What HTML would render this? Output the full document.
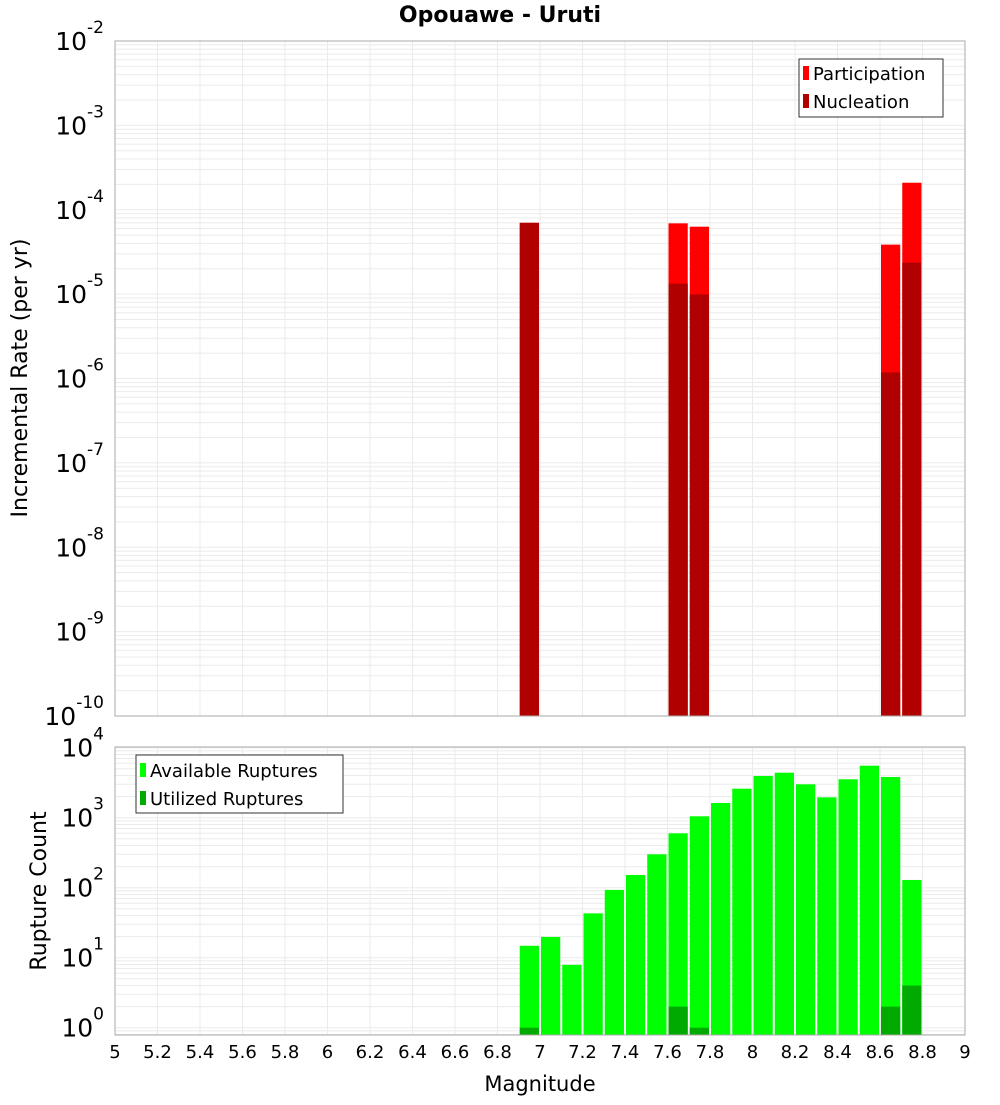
<!DOCTYPE html>
<html><head><meta charset="utf-8"><style>
body{margin:0;background:#fff;font-family:"Liberation Sans","DejaVu Sans",sans-serif}
svg text{font-family:"DejaVu Sans","Liberation Sans",sans-serif}
</style></head><body>
<svg id="chart" width="1000" height="1100" xmlns="http://www.w3.org/2000/svg">
<text x="500" y="22" text-anchor="middle" font-size="22" font-weight="bold">Opouawe - Uruti</text>
<g id="gtop"></g><g id="gbot"></g>
<text transform="translate(27,378) rotate(-90)" text-anchor="middle" font-size="22">Incremental Rate (per yr)</text>
<text transform="translate(46,891) rotate(-90)" text-anchor="middle" font-size="22">Rupture Count</text>
<text x="540" y="1091" text-anchor="middle" font-size="21">Magnitude</text>
<g>
<rect x="799" y="59" width="144" height="58" fill="#fff" stroke="#333"/>
<rect x="803" y="66" width="6" height="14" fill="#ff0000"/>
<text x="813" y="80" font-size="18">Participation</text>
<rect x="803" y="94" width="6" height="14" fill="#b00000"/>
<text x="813" y="108" font-size="18">Nucleation</text>
</g>
<g>
<rect x="136" y="755" width="207" height="58" fill="#fff" stroke="#333"/>
<rect x="140" y="763" width="6" height="14" fill="#00ff00"/>
<text x="150" y="777" font-size="18">Available Ruptures</text>
<rect x="140" y="791" width="6" height="14" fill="#00aa00"/>
<text x="150" y="805" font-size="18">Utilized Ruptures</text>
</g>
</svg>
<script>
const mags = [6.95,7.05,7.15,7.25,7.35,7.45,7.55,7.65,7.75,7.85,7.95,8.05,8.15,8.25,8.35,8.45,8.55,8.65,8.75];
const available = [14.8,19.8,7.9,43,93,152,300,598,1047,1622,2597,3943,4395,3000,1956,3540,5530,3813,129];
const utilized = [1,0,0,0,0,0,0,2,1,0,0,0,0,0,0,0,0,2,4];
const rateMags = [6.95,7.65,7.75,8.65,8.75];
const participation = [7.0e-5,6.9e-5,6.3e-5,3.86e-5,2.09e-4];
const nucleation = [7.0e-5,1.33e-5,9.9e-6,1.18e-6,2.36e-5];
const xTicks = [5,5.2,5.4,5.6,5.8,6,6.2,6.4,6.6,6.8,7,7.2,7.4,7.6,7.8,8,8.2,8.4,8.6,8.8,9];
const rateExps = [-2,-3,-4,-5,-6,-7,-8,-9,-10];
const countExps = [4,3,2,1,0];

const NS="http://www.w3.org/2000/svg";
const X0=115,X1=965;
const xs=m=>X0+(m-5)/4*(X1-X0);
const T0=41,T1=716,yTop=v=>T0+(-2-Math.log10(v))/8*(T1-T0);
const B0=747,B1=1035,PD=70,yBot=v=>1027.7-Math.log10(v)*PD;
function mk(p,tag,at,txt){const e=document.createElementNS(NS,tag);for(const k in at)e.setAttribute(k,at[k]);if(txt!==undefined)e.textContent=txt;p.appendChild(e);return e;}
const gTop=document.getElementById('gtop'),gBot=document.getElementById('gbot');
function grid(g,y0,y1,yf,lo,hi){
  mk(g,'rect',{x:X0,y:y0,width:X1-X0,height:y1-y0,fill:'#fff'});
  for(let e=lo;e<=hi;e++)for(let k=1;k<10;k++){const y=yf(k*Math.pow(10,e));if(y>y0&&y<y1){const l=mk(g,'line',{x1:X0,x2:X1,y1:y,y2:y,stroke:'#ebebeb','stroke-width':1});
    
    }}
  xTicks.forEach(t=>{const l=mk(g,'line',{x1:xs(t),x2:xs(t),y1:y0,y2:y1,stroke:'#ebebeb'});
    
    });
}
grid(gTop,T0,T1,yTop,-11,-2);
grid(gBot,B0,B1,yBot,-1,4);
const bw=xs(0.1)-xs(0)-2;
function bar(g,m,v,yf,yb,c,name){const y=yf(v);const r=mk(g,'rect',{x:xs(m)-bw/2,y:y,width:bw,height:yb-y,fill:c});
  
  }
rateMags.forEach((m,i)=>{bar(gTop,m,participation[i],yTop,T1,'#ff0000','participation-bar');bar(gTop,m,nucleation[i],yTop,T1,'#b00000','nucleation-bar');});
mags.forEach((m,i)=>{bar(gBot,m,available[i],yBot,B1,'#00ff00','available-bar');if(utilized[i]>0)bar(gBot,m,utilized[i],yBot,B1,'#00aa00','utilized-bar');});
mk(gTop,'rect',{x:X0,y:T0,width:X1-X0,height:T1-T0,fill:'none',stroke:'#aaa'});
mk(gBot,'rect',{x:X0,y:B0,width:X1-X0,height:B1-B0,fill:'none',stroke:'#aaa'});
function ylab(g,y,e){const t=mk(g,'text',{x:104,y:y+9,'text-anchor':'end','font-size':25});
  
  
  mk(t,'tspan',{},'10');mk(t,'tspan',{'font-size':17,dy:-17},String(e));}
rateExps.forEach(e=>ylab(gTop,yTop(Math.pow(10,e)),e));
countExps.forEach(e=>ylab(gBot,yBot(Math.pow(10,e)),e));
xTicks.forEach(t=>{const l=mk(gBot,'text',{x:xs(t),y:1058,'text-anchor':'middle','font-size':18},String(t));
  
  });
</script>
</body></html>
